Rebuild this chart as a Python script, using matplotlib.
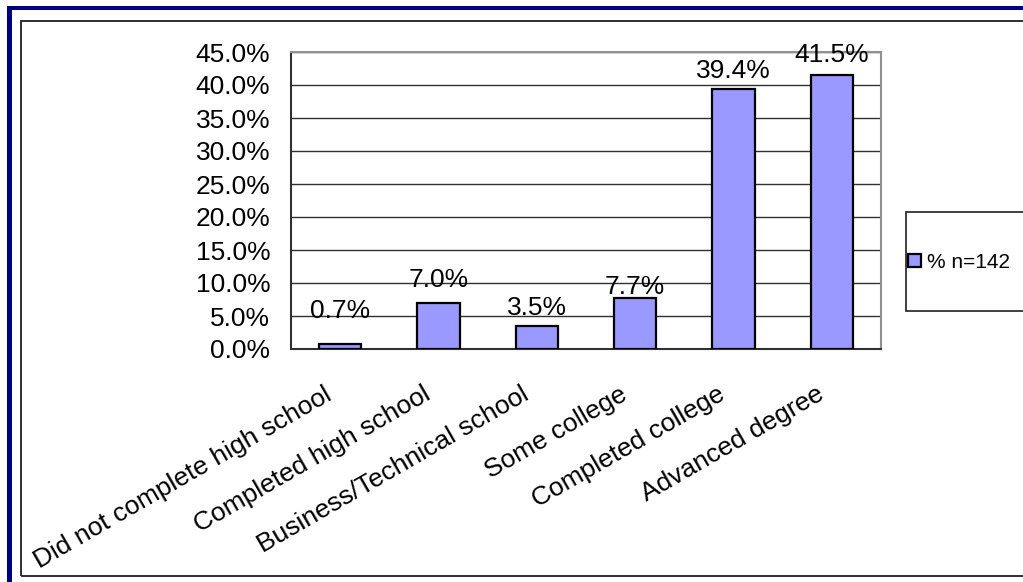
import matplotlib
matplotlib.use("Agg")
import matplotlib.pyplot as plt
from matplotlib.patches import Rectangle
from matplotlib.transforms import ScaledTranslation

plt.rcParams['font.family'] = ['Liberation Sans', 'DejaVu Sans']

categories = [
    "Did not complete high school",
    "Completed high school",
    "Business/Technical school",
    "Some college",
    "Completed college",
    "Advanced degree",
]
values = [0.7, 7.0, 3.5, 7.7, 39.4, 41.5]
series_name = "% n=142"
y_ticks = [0, 5, 10, 15, 20, 25, 30, 35, 40, 45]

# vertical gap (px) between each bar top and its value label
label_gaps = [26, 16, 11, 4, 11, 13]

W, H = 1023, 582
fig = plt.figure(figsize=(W / 100, H / 100), dpi=100)


def fx(px):
    return px / W


def fy(py):
    return 1 - py / H


# outer decoration: navy rule along top and left, thin dark chart frame
fig.add_artist(Rectangle((fx(7), fy(10)), fx(W), 4 / H, transform=fig.transFigure,
                         facecolor="#000080", edgecolor="none"))
fig.add_artist(Rectangle((fx(7), 0), 5 / W, fy(6), transform=fig.transFigure,
                         facecolor="#000080", edgecolor="none"))
fig.add_artist(Rectangle((fx(21), fy(575.5)), fx(1100), (575.5 - 20.5) / H,
                         transform=fig.transFigure, facecolor="none",
                         edgecolor="#202020", linewidth=1.3))

ax = fig.add_axes([fx(291), fy(349), fx(590), 297 / H])
bars = ax.bar(range(len(categories)), values, width=0.43, color="#9999FF",
              edgecolor="black", linewidth=1.6, zorder=3, label=series_name)

ax.set_xlim(-0.5, len(categories) - 0.5)
ax.set_ylim(0, 45)
ax.set_yticks(y_ticks)
ax.set_yticklabels([f"{t:.1f}%" for t in y_ticks])
ax.yaxis.grid(True, color="#303030", linewidth=1.0, zorder=0)
ax.set_axisbelow(True)
ax.tick_params(axis="y", length=0, pad=15, labelsize=19)
ax.tick_params(axis="x", length=0, pad=24)

for side in ("top", "right"):
    ax.spines[side].set_color("#909090")
    ax.spines[side].set_linewidth(1.5)
for side in ("left", "bottom"):
    ax.spines[side].set_color("#303030")
    ax.spines[side].set_linewidth(1.5)

ax.set_xticks(range(len(categories)))
ax.set_xticklabels(categories, rotation=30, ha="right", va="top",
                   rotation_mode="anchor", fontsize=19)
shift = ScaledTranslation(-16 / 100, 0, fig.dpi_scale_trans)
for lab in ax.get_xticklabels():
    lab.set_transform(lab.get_transform() + shift)

for i, (v, g) in enumerate(zip(values, label_gaps)):
    ax.annotate(f"{v:.1f}%", xy=(i, v), xytext=(0, g * 0.72),
                textcoords="offset points", ha="center", va="baseline",
                fontsize=19, zorder=4)

# legend box, running off the right edge
fig.add_artist(Rectangle((fx(906), fy(311)), fx(200), 99 / H,
                         transform=fig.transFigure, facecolor="white",
                         edgecolor="#202020", linewidth=1.2))
fig.legend(handles=[bars], labels=[series_name], loc="center left",
           bbox_to_anchor=(fx(908), fy(262)), frameon=False, fontsize=15,
           handlelength=0.6, handleheight=0.6, handletextpad=0.3,
           borderpad=0, borderaxespad=0)

fig.savefig("out.png", dpi=100)
